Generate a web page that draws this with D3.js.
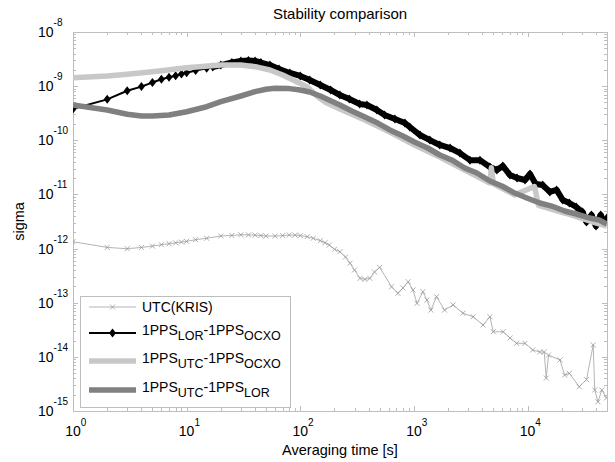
<!DOCTYPE html>
<html lang="en">
<head>
<meta charset="utf-8">
<title>Stability comparison</title>
<script src="https://d3js.org/d3.v7.min.js"></script>
<style>
  body { margin: 0; background: #fff; }
  text { font-family: "Liberation Sans", Arial, sans-serif; fill: #000; }
</style>
</head>
<body>
<script>

// ---- data (tau in s, sigma) ----
var utcTau = [1,2,3,4,5,6,7,8,9,10,12,15,20,25,30,35,40,45,50,60,70,80,90,100,115,130,150,165,180,200,
  223,250,274,300,335,370,410,450,500,635,723,800,890,980,1065,1200,1300,1410,1580,1860,2210,2700,3320,
  4060,4660,4990,6100,7000,8000,9500,11100,12800,14000,14600,15300,19300,21200,23300,28500,33000,37800,
  39000,41600,45000,49500];
var utcSigma = [1.34e-12,1.05e-12,9.95e-13,1.05e-12,1.11e-12,1.18e-12,1.23e-12,1.28e-12,1.32e-12,1.36e-12,
  1.46e-12,1.55e-12,1.71e-12,1.75e-12,1.80e-12,1.79e-12,1.77e-12,1.74e-12,1.71e-12,1.70e-12,1.74e-12,1.78e-12,
  1.77e-12,1.74e-12,1.66e-12,1.55e-12,1.40e-12,1.28e-12,1.16e-12,9.7e-13,8.75e-13,6.98e-13,5.35e-13,4.02e-13,
  2.82e-13,2.70e-13,2.82e-13,3.69e-13,4.5e-13,1.97e-13,1.49e-13,1.87e-13,2.44e-13,1.72e-13,9.75e-14,1.6e-13,
  1.12e-13,7.3e-14,1.29e-13,7.3e-14,9.1e-14,6.4e-14,5.5e-14,3.87e-14,5.5e-14,2.91e-14,2.91e-14,2.23e-14,
  1.78e-14,1.78e-14,1.34e-14,1.23e-14,1.23e-14,4.06e-15,1.08e-14,8.75e-15,4.6e-15,4.97e-15,2.81e-15,3.8e-15,
  1.66e-14,2.44e-15,1.48e-15,2.44e-15,1.74e-15];

var lorOcxoTau = [1,2,3,4,5,6,7,8,9,10,12,15,17,20,25,30,35,40,45,54,65,81,100,121,150,185,223,270,333,386,
  472,552,680,833,920,1130,1380,1690,2080,2540,3110,3810,4660,5370,6060,7000,8080,9500,10500,11800,
  13600,15700,18000,20400,23300,26800,30500,33000,36500,40000,44000,47500,49800];
var lorOcxoSigma = [3.8e-10,5.7e-10,8.2e-10,9.8e-10,1.17e-9,1.34e-9,1.46e-9,1.56e-9,1.67e-9,1.77e-9,
  1.95e-9,2.14e-9,2.25e-9,2.45e-9,2.73e-9,2.91e-9,2.98e-9,2.91e-9,2.73e-9,2.45e-9,2.07e-9,1.75e-9,1.54e-9,
  1.30e-9,1.05e-9,8.5e-10,6.85e-10,5.78e-10,4.68e-10,4.49e-10,3.62e-10,2.93e-10,2.47e-10,2.08e-10,1.76e-10,
  1.25e-10,1.01e-10,8.2e-11,7.2e-11,5.8e-11,4.3e-11,4.3e-11,3.2e-11,2.83e-11,3.35e-11,2.28e-11,2.01e-11,
  1.85e-11,2.38e-11,1.56e-11,1.49e-11,1.11e-11,1.21e-11,7.9e-12,6.95e-12,5.86e-12,4.73e-12,3.1e-12,4.17e-12,
  2.6e-12,4.17e-12,2.96e-12,3.66e-12];

var utcOcxoTau = [1,2,3,5,10,20,30,40,54,70,93,114,140,165,223,370,614,1010,1690,2800,4660,4800,5000,
  7710,11500,12500,21200,35200,49800];
var utcOcxoSigma = [1.43e-9,1.54e-9,1.66e-9,1.85e-9,2.19e-9,2.45e-9,2.45e-9,2.29e-9,1.99e-9,1.61e-9,
  1.21e-9,9.8e-10,6.58e-10,5.09e-10,3.78e-10,2.37e-10,1.42e-10,8.2e-11,4.91e-11,2.83e-11,1.63e-11,3.1e-11,
  1.57e-11,9.8e-12,1.4e-11,6.3e-12,4.54e-12,3.23e-12,2.61e-12];

var utcLorTau = [1,2,3,4,5,7,10,15,20,30,40,50,60,80,100,121,150,223,284,370,480,614,800,1010,1320,1690,
  2150,2800,3580,4660,5940,7710,9850,12800,16300,21200,26800,35200,42600,49800];
var utcLorSigma = [4.49e-10,3.62e-10,3.02e-10,2.81e-10,2.81e-10,2.93e-10,3.37e-10,4.17e-10,5.16e-10,6.58e-10,
  7.9e-10,8.75e-10,9.1e-10,9.0e-10,8.5e-10,7.8e-10,6.58e-10,4.49e-10,3.47e-10,2.69e-10,2.08e-10,1.55e-10,
  1.2e-10,9.3e-11,7.2e-11,5.35e-11,4.33e-11,3.08e-11,2.49e-11,1.77e-11,1.43e-11,1.06e-11,8.6e-12,6.95e-12,
  6.1e-12,4.94e-12,4.35e-12,3.66e-12,3.37e-12,2.84e-12];

var xMajorExp = [0, 1, 2, 3, 4];
var yMajorExp = [-8, -9, -10, -11, -12, -13, -14, -15];

// ---- layout ----
var w = 615, h = 462,
    pLeft = 73, pRight = 607, pTop = 32, pBottom = 411,
    axisColor = "#bdbdbd";

var x = d3.scaleLog().domain([1, 5e4]).range([pLeft, pRight]);
var y = d3.scaleLog().domain([1e-15, 1e-8]).range([pBottom, pTop]);

var svg = d3.select("body").append("svg")
    .attr("width", w)
    .attr("height", h);

svg.append("defs").append("clipPath").attr("id", "clip")
    .append("rect")
    .attr("x", pLeft).attr("y", pTop)
    .attr("width", pRight - pLeft).attr("height", pBottom - pTop);

function zip(t, s) {
    return t.map(function(d, i) { return {t: d, s: s[i]}; });
}
var utc = zip(utcTau, utcSigma),
    lorOcxo = zip(lorOcxoTau, lorOcxoSigma),
    utcOcxo = zip(utcOcxoTau, utcOcxoSigma),
    utcLor = zip(utcLorTau, utcLorSigma);

// ---- axes box + ticks (inward, mirrored) ----
var isMajor = function(v) { return Math.abs(Math.log10(v) - Math.round(Math.log10(v))) < 1e-9; };
var ax = svg.append("g").attr("stroke", axisColor).attr("stroke-width", 1).attr("fill", "none");

ax.append("rect")
    .attr("x", pLeft + 0.5).attr("y", pTop + 0.5)
    .attr("width", pRight - pLeft).attr("height", pBottom - pTop);

x.ticks().forEach(function(v) {
    var px = Math.round(x(v)) + 0.5, len = isMajor(v) ? 5 : 3;
    ax.append("line").attr("x1", px).attr("x2", px).attr("y1", pBottom).attr("y2", pBottom - len);
    ax.append("line").attr("x1", px).attr("x2", px).attr("y1", pTop).attr("y2", pTop + len);
});
y.ticks().forEach(function(v) {
    var py = Math.round(y(v)) + 0.5, len = isMajor(v) ? 5 : 3;
    ax.append("line").attr("y1", py).attr("y2", py).attr("x1", pLeft).attr("x2", pLeft + len);
    ax.append("line").attr("y1", py).attr("y2", py).attr("x1", pRight).attr("x2", pRight - len);
});

// tick labels, "10" with superscript
xMajorExp.forEach(function(e) {
    var t = svg.append("text")
        .attr("x", x(Math.pow(10, e)) - 7.8)
        .attr("y", 436)
        .style("font-size", "14px");
    t.append("tspan").text("10");
    t.append("tspan").attr("dy", -10).style("font-size", "10px").text(e);
});
yMajorExp.forEach(function(e) {
    var t = svg.append("text")
        .attr("x", 38)
        .attr("y", y(Math.pow(10, e)) + 5)
        .style("font-size", "14px");
    t.append("tspan").text("10");
    t.append("tspan").attr("dy", -11).style("font-size", "10px").text(e);
});

// titles
svg.append("text")
    .attr("x", (pLeft + pRight) / 2).attr("y", 19)
    .attr("text-anchor", "middle")
    .style("font-size", "15px")
    .text("Stability comparison");

svg.append("text")
    .attr("x", (pLeft + pRight) / 2).attr("y", 455)
    .attr("text-anchor", "middle")
    .style("font-size", "14.5px")
    .text("Averaging time [s]");

svg.append("text")
    .attr("transform", "translate(24," + (pBottom + pTop) / 2 + ") rotate(-90)")
    .attr("text-anchor", "middle")
    .style("font-size", "14.5px")
    .text("sigma");

// ---- series ----
var line = d3.line()
    .x(function(d) { return x(d.t); })
    .y(function(d) { return y(d.s); });

var plot = svg.append("g").attr("clip-path", "url(#clip)");

function cross(g, cx, cy, r) {
    g.append("path")
        .attr("d", "M" + (cx - r) + "," + (cy - r) + "L" + (cx + r) + "," + (cy + r) +
                   "M" + (cx - r) + "," + (cy + r) + "L" + (cx + r) + "," + (cy - r))
        .attr("stroke", "#999").attr("stroke-width", 0.8).attr("fill", "none");
}
function diamond(g, cx, cy) {
    g.append("path")
        .attr("d", "M" + cx + "," + (cy - 4.5) + "L" + (cx + 3.5) + "," + cy +
                   "L" + cx + "," + (cy + 4.5) + "L" + (cx - 3.5) + "," + cy + "Z")
        .attr("fill", "#000");
}

// UTC(KRIS)
plot.append("path").datum(utc)
    .attr("d", line)
    .attr("fill", "none").attr("stroke", "#b4b4b4").attr("stroke-width", 1);
var utcMarks = plot.append("g");
utc.forEach(function(d) { cross(utcMarks, x(d.t), y(d.s), 2.5); });

// 1PPS_LOR - 1PPS_OCXO
plot.append("path").datum(lorOcxo)
    .attr("d", line)
    .attr("fill", "none").attr("stroke", "#000").attr("stroke-width", 2);
plot.append("path").datum(lorOcxo.filter(function(d) { return d.t >= 17; }))
    .attr("d", line)
    .attr("fill", "none").attr("stroke", "#000").attr("stroke-width", 6)
    .attr("stroke-linejoin", "round");
var lorMarks = plot.append("g");
lorOcxo.forEach(function(d) { diamond(lorMarks, x(d.t), y(d.s)); });

// 1PPS_UTC - 1PPS_OCXO
plot.append("path").datum(utcOcxo)
    .attr("d", line)
    .attr("fill", "none").attr("stroke", "#c8c8c8").attr("stroke-width", 5.5)
    .attr("stroke-linejoin", "round");

// 1PPS_UTC - 1PPS_LOR
plot.append("path").datum(utcLor)
    .attr("d", line)
    .attr("fill", "none").attr("stroke", "#808080").attr("stroke-width", 5.5)
    .attr("stroke-linejoin", "round");

// ---- legend ----
var lg = svg.append("g");
lg.append("rect")
    .attr("x", 80.5).attr("y", 296.5).attr("width", 210).attr("height", 111)
    .attr("fill", "#fff").attr("stroke", axisColor);

var rows = [
    {y: 307, text: [["UTC(KRIS)", 0]], color: "#b4b4b4", width: 1, base: 312},
    {y: 333, text: [["1PPS", 0], ["LOR", 1], ["-1PPS", 0], ["OCXO", 1]], color: "#000", width: 2, base: 335},
    {y: 361, text: [["1PPS", 0], ["UTC", 1], ["-1PPS", 0], ["OCXO", 1]], color: "#c8c8c8", width: 5.5, base: 363},
    {y: 390, text: [["1PPS", 0], ["UTC", 1], ["-1PPS", 0], ["LOR", 1]], color: "#808080", width: 5.5, base: 392}
];
rows.forEach(function(r, i) {
    lg.append("line")
        .attr("x1", 89).attr("x2", 136).attr("y1", r.y).attr("y2", r.y)
        .attr("stroke", r.color).attr("stroke-width", r.width);
    if (i === 0) cross(lg, 112.5, r.y, 2.5);
    if (i === 1) diamond(lg, 112.5, r.y);
    var t = lg.append("text").attr("x", 142).attr("y", r.base).style("font-size", "14px");
    var sub = false;
    r.text.forEach(function(p) {
        var dy = 0;
        if (p[1] && !sub) dy = 5;
        if (!p[1] && sub) dy = -5;
        sub = !!p[1];
        t.append("tspan").attr("dy", dy)
            .style("font-size", p[1] ? "12.5px" : "14px")
            .text(p[0]);
    });
});

</script>
</body>
</html>
